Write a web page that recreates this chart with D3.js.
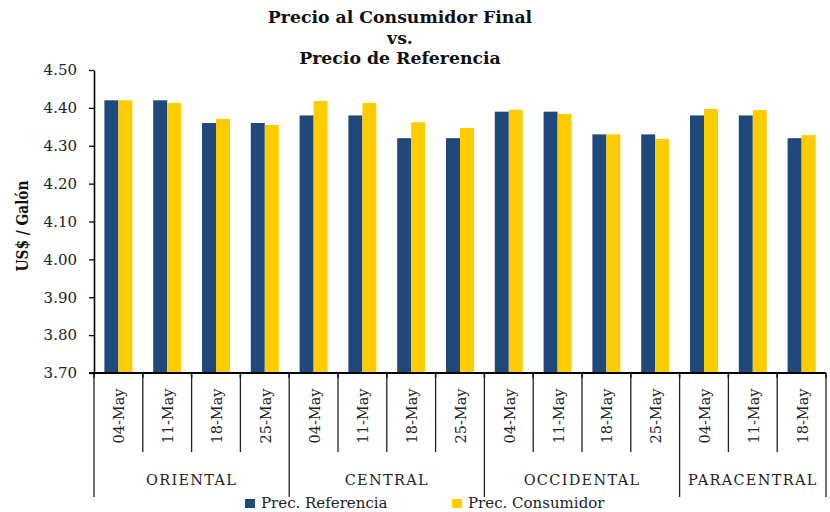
<!DOCTYPE html>
<html>
<head>
<meta charset="utf-8">
<script src="https://cdn.jsdelivr.net/npm/d3@7"></script>
<style>
  html, body { margin: 0; padding: 0; background: #fff; }
  svg { display: block; }
</style>
</head>
<body>
<svg id="chart" width="830" height="512"></svg>
<script>
// ---- Data ----
const regions = ["ORIENTAL", "CENTRAL", "OCCIDENTAL", "PARACENTRAL"];
const dates = [
  ["04-May", "11-May", "18-May", "25-May"],
  ["04-May", "11-May", "18-May", "25-May"],
  ["04-May", "11-May", "18-May", "25-May"],
  ["04-May", "11-May", "18-May"]
];
const precReferencia = [4.42, 4.42, 4.36, 4.36, 4.38, 4.38, 4.32, 4.32, 4.39, 4.39, 4.33, 4.33, 4.38, 4.38, 4.32];
const precConsumidor = [4.42, 4.413, 4.371, 4.355, 4.418, 4.413, 4.362, 4.347, 4.395, 4.384, 4.33, 4.318, 4.397, 4.394, 4.328];
const yTicks = [3.70, 3.80, 3.90, 4.00, 4.10, 4.20, 4.30, 4.40, 4.50];
const seriesNames = ["Prec. Referencia", "Prec. Consumidor"];
const colors = ["#1F497D", "#FFCC00"];
const titleLines = ["Precio al Consumidor Final", "vs.", "Precio de Referencia"];
const yTitle = "US$ / Galón";

(function () {
// ---- Build rows ----
const rows = [];
dates.forEach((ds, gi) => ds.forEach(d => rows.push({ region: regions[gi], date: d, gi })));
rows.forEach((r, i) => { r.key = i; r.values = [precReferencia[i], precConsumidor[i]]; });

const svg = d3.select("#chart");
const mLeft = 94, mRight = 826, mTop = 70, mBottom = 373;

const x = d3.scaleBand().domain(rows.map(r => r.key)).range([mLeft, mRight])
  .paddingInner(0.426).paddingOuter(0.213);
const xs = d3.scaleBand().domain([0, 1]).range([0, x.bandwidth()]);
const y = d3.scaleLinear().domain([3.7, 4.5]).range([mBottom, mTop]);
const step = x.step();
const bx = i => mLeft + i * step; // boundary

const serif = "'DejaVu Serif', serif";

// ---- Bars ----
const g = svg.append("g");
rows.forEach(r => {
  g.selectAll(null).data(r.values.map((v, s) => ({ v, s }))).enter().append("rect")
    .attr("x", d => x(r.key) + xs(d.s))
    .attr("y", d => y(d.v))
    .attr("width", xs.bandwidth())
    .attr("height", d => y(3.7) - y(d.v))
    .attr("fill", d => colors[d.s]);
});

// ---- Y axis ----
const yAxis = svg.append("g").attr("transform", `translate(${mLeft},0)`)
  .call(d3.axisLeft(y).tickValues(yTicks).tickFormat(d3.format(".2f")).tickSize(5).tickSizeOuter(0).tickPadding(12));
yAxis.select(".domain").attr("stroke", "#000").attr("stroke-width", 1.6);
yAxis.selectAll(".tick line").attr("stroke", "#000").attr("stroke-width", 1.3);
yAxis.selectAll(".tick text").attr("font-family", serif).attr("font-size", 15).attr("fill", "#222");

// ---- X axis (line + ticks + separators) ----
const boundaries = d3.range(rows.length + 1);
svg.append("line").attr("x1", mLeft - 5).attr("x2", mRight).attr("y1", mBottom).attr("y2", mBottom)
  .attr("stroke", "#000").attr("stroke-width", 2);
svg.selectAll(".xt").data(boundaries).enter().append("line")
  .attr("x1", i => bx(i)).attr("x2", i => bx(i))
  .attr("y1", mBottom).attr("y2", mBottom + 5)
  .attr("stroke", "#000").attr("stroke-width", 1.5);

const groupStarts = [];
let acc = 0;
dates.forEach(ds => { groupStarts.push(acc); acc += ds.length; });
groupStarts.push(acc);
const isGroupB = i => groupStarts.includes(i);

svg.selectAll(".sep").data(boundaries).enter().append("line")
  .attr("x1", i => bx(i)).attr("x2", i => bx(i))
  .attr("y1", mBottom + 1).attr("y2", i => isGroupB(i) ? 497 : 452)
  .attr("stroke", "#222").attr("stroke-width", 1.3);

// date labels
svg.selectAll(".dl").data(rows).enter().append("text")
  .attr("transform", r => `translate(${x(r.key) + x.bandwidth() / 2 + 1},416) rotate(-90)`)
  .attr("text-anchor", "middle").attr("dy", "0.35em")
  .attr("font-family", serif).attr("font-size", 14.5).attr("fill", "#222")
  .text(r => r.date);

// region labels
svg.selectAll(".rl").data(regions).enter().append("text")
  .attr("x", (d, gi) => (bx(groupStarts[gi]) + bx(groupStarts[gi + 1])) / 2)
  .attr("y", 485)
  .attr("text-anchor", "middle")
  .attr("font-family", serif).attr("font-size", 14.5).attr("letter-spacing", 1.3).attr("fill", "#222")
  .text(d => d);

// ---- Y title ----
svg.append("text")
  .attr("transform", "translate(28,226) rotate(-90)")
  .attr("text-anchor", "middle")
  .attr("font-family", serif).attr("font-weight", "bold").attr("font-size", 16)
  .attr("textLength", 91).attr("lengthAdjust", "spacingAndGlyphs")
  .attr("fill", "#111")
  .text(yTitle);

// ---- Title ----
svg.selectAll(".tt").data(titleLines).enter().append("text")
  .attr("x", 400).attr("y", (d, i) => 23 + i * 20.5)
  .attr("text-anchor", "middle")
  .attr("font-family", serif).attr("font-weight", "bold").attr("font-size", 17.3)
  .attr("fill", "#111")
  .text(d => d);

// ---- Legend ----
const legX = [245, 452];
const leg = svg.selectAll(".lg").data(seriesNames).enter().append("g")
  .attr("transform", (d, i) => `translate(${legX[i]},499)`);
leg.append("rect").attr("width", 10).attr("height", 9).attr("fill", (d, i) => colors[i]);
leg.append("text").attr("x", 16).attr("y", 8.5)
  .attr("font-family", serif).attr("font-size", 15).attr("fill", "#222")
  .text(d => d);
})();
</script>
</body>
</html>
